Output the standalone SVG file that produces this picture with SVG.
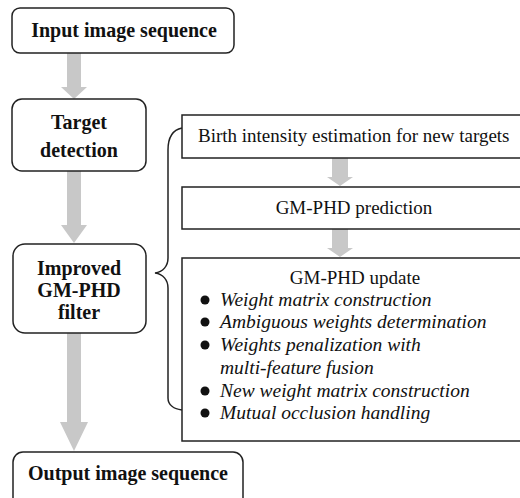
<svg xmlns="http://www.w3.org/2000/svg" width="520" height="498" viewBox="0 0 520 498">
  <style>
    .box { fill: #ffffff; stroke: #222222; stroke-width: 1.5; }
    .bold { font-family: "Liberation Serif", "Times New Roman", serif; font-weight: bold; font-size: 20px; fill: #111111; text-anchor: middle; }
    .reg { font-family: "Liberation Serif", "Times New Roman", serif; font-size: 19px; fill: #111111; }
    .ital { font-family: "Liberation Serif", "Times New Roman", serif; font-style: italic; font-size: 19.5px; fill: #111111; }
    .arrow { fill: #c8c8c8; }
    .brace { fill: none; stroke: #222222; stroke-width: 1.5; }
  </style>
  <rect width="520" height="498" fill="#ffffff"/>

  <!-- gray block arrows and the brace -->
  <g id="connectors">
    <polygon class="arrow" points="67,53 81,53 81,87 87,87 74,99 61,87 67,87"/>
    <polygon class="arrow" points="67,171 81,171 81,225 87,225 74,243 61,225 67,225"/>
    <polygon class="arrow" points="67,333 81,333 81,422 88,422 74,451 60,422 67,422"/>
    <polygon class="arrow" points="332,158 348,158 348,177 353,177 340,186 327,177 332,177"/>
    <polygon class="arrow" points="332,229 348,229 348,248 353,248 340,257 327,248 332,248"/>
    <path class="brace" d="M182,128 C172,130 168,138 168,150 L168,258 C168,266 163,272 155,273 C163,274 168,280 168,288 L168,398 C168,405 174,409 182,410"/>
  </g>

  <g id="input">
    <rect class="box" x="12" y="8" width="222" height="45" rx="8"/>
    <text class="bold" x="124" y="37">Input image sequence</text>
  </g>

  <g id="detection">
    <rect class="box" x="12" y="99" width="134" height="72" rx="10"/>
    <text class="bold" x="79" y="129">Target</text>
    <text class="bold" x="79" y="157">detection</text>
  </g>

  <g id="filter">
    <rect class="box" x="13" y="244" width="133" height="89" rx="12"/>
    <text class="bold" x="79" y="275">Improved</text>
    <text class="bold" x="79" y="297">GM-PHD</text>
    <text class="bold" x="79" y="319">filter</text>
  </g>

  <g id="output">
    <rect class="box" x="13" y="452" width="230" height="60" rx="10"/>
    <text class="bold" x="128" y="480">Output image sequence</text>
  </g>

  <g id="birth">
    <rect class="box" x="182" y="115" width="350" height="43"/>
    <text class="reg" x="198" y="142">Birth intensity estimation for new targets</text>
  </g>

  <g id="prediction">
    <rect class="box" x="182" y="187" width="350" height="42"/>
    <text class="reg" x="354" y="214" text-anchor="middle">GM-PHD prediction</text>
  </g>

  <g id="update">
    <rect class="box" x="182" y="258" width="350" height="183"/>
    <text class="reg" x="355" y="284" text-anchor="middle">GM-PHD update</text>
    <g fill="#111111">
      <circle cx="205" cy="300" r="4.5"/>
      <circle cx="205" cy="322" r="4.5"/>
      <circle cx="205" cy="345" r="4.5"/>
      <circle cx="205" cy="391" r="4.5"/>
      <circle cx="205" cy="413" r="4.5"/>
    </g>
    <text class="ital" x="220" y="306">Weight matrix construction</text>
    <text class="ital" x="220" y="328">Ambiguous weights determination</text>
    <text class="ital" x="220" y="351">Weights penalization with</text>
    <text class="ital" x="220" y="374">multi-feature fusion</text>
    <text class="ital" x="220" y="397">New weight matrix construction</text>
    <text class="ital" x="220" y="419">Mutual occlusion handling</text>
  </g>
</svg>
